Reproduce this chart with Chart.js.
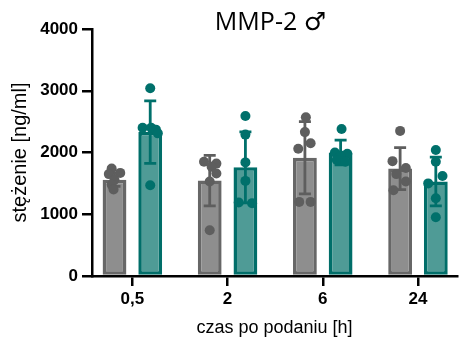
<!DOCTYPE html>
<html>
<head>
<meta charset="utf-8">
<script src="https://cdn.jsdelivr.net/npm/chart.js@4"></script>
<style>
  html, body { margin: 0; padding: 0; background: #fff; }
  #wrap { width: 462px; height: 345px; position: relative; }
</style>
</head>
<body>
<div id="wrap"><canvas id="chart"></canvas></div>
<script>
// Data
const chartTitle = 'MMP-2 \u2642';
const categories = ['0,5', '2', '6', '24'];
const yTicks = [0, 1000, 2000, 3000, 4000];

// bar means and SD
const greyMean = [1560, 1545, 1915, 1740];
const greySD   = [110, 410, 585, 340];
const tealMean = [2330, 1760, 2000, 1530];
const tealSD   = [505, 575, 200, 395];

// individual animals per time point
const greyPoints = [
  [1740, 1670, 1650, 1560, 1480, 1400],
  [1850, 1820, 1770, 1660, 1530, 740],
  [2570, 2330, 2150, 2060, 1200, 1200],
  [2350, 1860, 1750, 1650, 1530, 1390]
];
const tealPoints = [
  [3040, 2400, 2400, 2370, 2310, 1470],
  [2590, 2290, 1840, 1540, 1190, 1180],
  [2380, 2000, 1980, 1950, 1880, 1850],
  [2040, 1850, 1620, 1500, 1260, 950]
];
// horizontal spread of the dots inside a bar (fraction of a category step)
const greyJitter = [
  [-0.03, 0.06, -0.06, 0, -0.03, -0.01],
  [-0.06, 0.07, 0.02, 0.07, 0, 0],
  [0.01, 0, 0.06, -0.07, -0.06, 0.06],
  [0, -0.08, 0.06, -0.04, 0.06, -0.07]
];
const tealJitter = [
  [0, -0.08, 0.01, 0.06, 0.08, 0],
  [0, 0, 0, 0, -0.07, 0.07],
  [0.01, -0.06, 0.07, 0, -0.04, 0.05],
  [0, 0, 0.07, -0.08, 0, 0]
];

const GREY_FILL = '#8e8e8e', GREY_LINE = '#676767', GREY_DOT = '#5e5e5e';
const TEAL_FILL = '#4f9b96', TEAL_LINE = '#006e69', TEAL_DOT = '#00706b';
const GROUP_SHIFT = 0.1875; // half the distance between the two bars of a group
const FONT = '"Liberation Sans", Arial, sans-serif';

function pointsOf(values, jitter, shift) {
  const out = [];
  values.forEach((arr, i) => arr.forEach((v, k) => out.push({ x: i + shift + jitter[i][k], y: v })));
  return out;
}

const errorBars = {
  id: 'errorBars',
  afterDatasetDraw(chart, args) {
    const ds = chart.data.datasets[args.index];
    if (!ds.sd) return;
    const y = chart.scales.y;
    const ctx = chart.ctx;
    ctx.save();
    ctx.strokeStyle = ds.errColor;
    ctx.lineWidth = 2.8;
    args.meta.data.forEach((bar, i) => {
      const m = ds.data[i].y, s = ds.sd[i];
      const yt = y.getPixelForValue(m + s), yb = y.getPixelForValue(m - s);
      const x = bar.x;
      ctx.beginPath();
      ctx.moveTo(x, yt); ctx.lineTo(x, yb);
      ctx.moveTo(x - 6, yt); ctx.lineTo(x + 6, yt);
      ctx.moveTo(x - 6, yb); ctx.lineTo(x + 6, yb);
      ctx.stroke();
    });
    ctx.restore();
  }
};

const topTitle = {
  id: 'topTitle',
  afterDraw(chart) {
    const ctx = chart.ctx, a = chart.chartArea;
    ctx.save();
    ctx.font = '25px "Open Sans", "DejaVu Sans", sans-serif';
    ctx.fillStyle = '#000';
    ctx.textAlign = 'center';
    ctx.textBaseline = 'middle';
    ctx.fillText(chartTitle, (a.left + a.right) / 2 - 4, 23);
    ctx.restore();
  }
};

new Chart(document.getElementById('chart'), {
  type: 'bar',
  data: {
    datasets: [
      {
        type: 'scatter', order: 0,
        data: pointsOf(greyPoints, greyJitter, -GROUP_SHIFT),
        pointRadius: 5, pointBackgroundColor: GREY_DOT, pointBorderWidth: 0
      },
      {
        type: 'scatter', order: 0,
        data: pointsOf(tealPoints, tealJitter, GROUP_SHIFT),
        pointRadius: 5, pointBackgroundColor: TEAL_DOT, pointBorderWidth: 0
      },
      {
        order: 1,
        data: greyMean.map((v, i) => ({ x: i, y: v })),
        sd: greySD, errColor: GREY_DOT,
        backgroundColor: GREY_FILL, borderColor: GREY_LINE, borderWidth: 3.5, borderSkipped: false,
        categoryPercentage: 0.75, barPercentage: 0.667
      },
      {
        order: 1,
        data: tealMean.map((v, i) => ({ x: i, y: v })),
        sd: tealSD, errColor: TEAL_DOT,
        backgroundColor: TEAL_FILL, borderColor: TEAL_LINE, borderWidth: 3.5, borderSkipped: false,
        categoryPercentage: 0.75, barPercentage: 0.667
      }
    ]
  },
  options: {
    responsive: true,
    maintainAspectRatio: false,
    animation: false,
    events: [],
    layout: { padding: { top: 29, right: 2, left: 0, bottom: 0 } },
    plugins: { legend: { display: false }, tooltip: { enabled: false } },
    scales: {
      x: {
        type: 'linear',
        offset: false,
        bounds: 'data',
        min: -0.424, max: 3.41,
        afterBuildTicks: s => { s.ticks = categories.map((c, i) => ({ value: i })); },
        afterFit: s => { s.height = 69; },
        border: { color: '#000', width: 2.5 },
        grid: { offset: false, drawOnChartArea: false, color: '#000', lineWidth: 2.5, tickLength: 10 },
        ticks: {
          color: '#000', padding: 3, autoSkip: false, maxRotation: 0,
          font: { family: FONT, size: 17, weight: 'bold' },
          callback: (v, i) => categories[i]
        },
        title: {
          display: true, text: 'czas po podaniu [h]', color: '#000',
          font: { family: FONT, size: 18 },
          padding: { top: 0, bottom: 6 }
        }
      },
      y: {
        min: 0, max: 4000,
        afterBuildTicks: s => { s.ticks = yTicks.map(v => ({ value: v })); },
        afterFit: s => { s.width = 92; },
        border: { color: '#000', width: 2.5 },
        grid: { drawOnChartArea: false, color: '#000', lineWidth: 2.5, tickLength: 10 },
        ticks: {
          color: '#000', padding: 4,
          font: { family: FONT, size: 17, weight: 'bold' },
          callback: v => String(v)
        },
        title: {
          display: true, text: 'stężenie [ng/ml]', color: '#000',
          font: { family: FONT, size: 20 },
          padding: { top: 8, bottom: 0 }
        }
      }
    }
  },
  plugins: [errorBars, topTitle]
});
</script>
</body>
</html>
